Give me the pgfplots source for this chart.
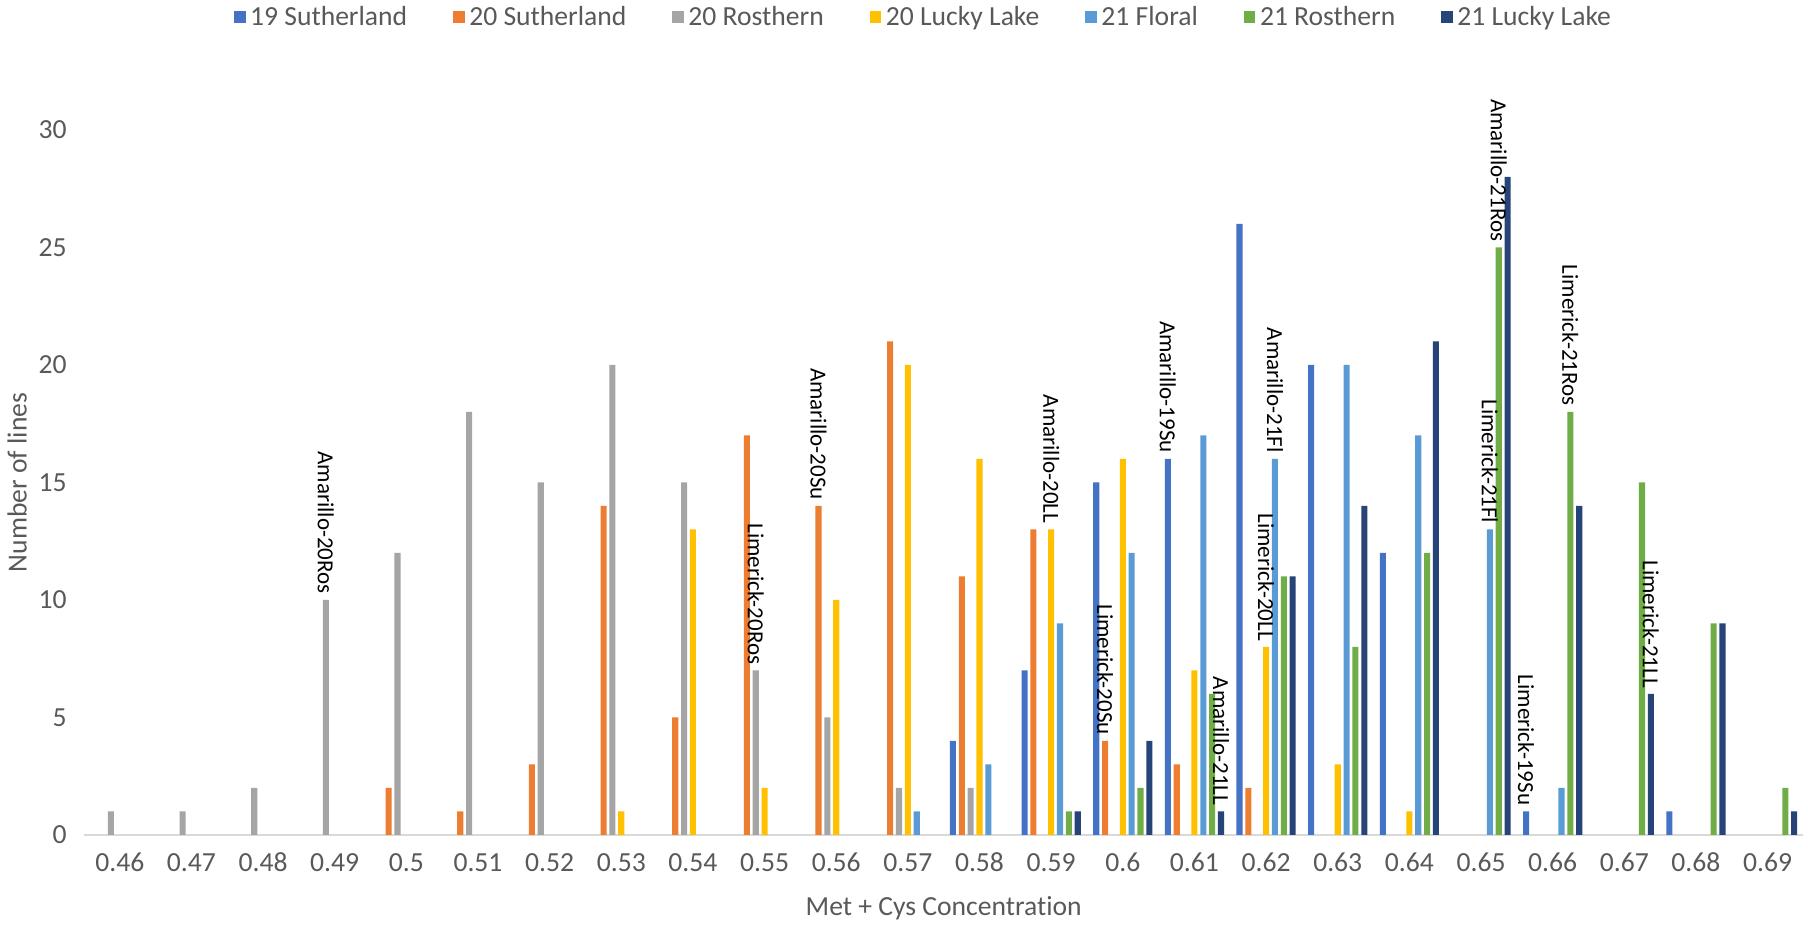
\documentclass[border=0pt]{standalone}
\usepackage{fontspec}
\setmainfont{Carlito}[Ligatures=NoCommon]
\usepackage{pgfplots}
\pgfplotsset{compat=1.18}
\definecolor{cA}{HTML}{4472C4}
\definecolor{cB}{HTML}{ED7D31}
\definecolor{cC}{HTML}{A5A5A5}
\definecolor{cD}{HTML}{FFC000}
\definecolor{cE}{HTML}{5B9BD5}
\definecolor{cF}{HTML}{70AD47}
\definecolor{cG}{HTML}{264478}
\definecolor{txt}{HTML}{595959}
\definecolor{axl}{HTML}{D9D9D9}
\pgfplotsset{sqleg/.style={legend image code/.code={\fill[##1,draw=none] (0pt,-2.6pt) rectangle (5pt,2.6pt);}}}
\begin{document}
\begin{tikzpicture}
\useasboundingbox (-36.5pt,-40pt) rectangle (749.5pt,363pt);
\begin{axis}[
  scale only axis, width=747.5pt, height=306.5pt,
  xmin=-0.5, xmax=23.5, ymin=0, ymax=30,
  clip=false,
  ybar, bar width=0.085,
  axis x line*=bottom, axis y line*=left,
  x axis line style={draw=axl, line width=0.75pt},
  y axis line style={draw=none},
  major tick length=0pt,
  xtick={0,...,23},
  xticklabels={0.46,0.47,0.48,0.49,0.5,0.51,0.52,0.53,0.54,0.55,0.56,0.57,0.58,0.59,0.6,0.61,0.62,0.63,0.64,0.65,0.66,0.67,0.68,0.69},
  ytick={0,5,...,30},
  /pgf/number format/assume math mode=true,
  tick label style={font=\fontsize{12}{14}\selectfont, text=txt},
  xticklabel style={anchor=center, yshift=-12pt},
  yticklabel style={xshift=-4pt},
  xlabel={Met + Cys Concentration},
  ylabel={Number of lines},
  label style={font=\fontsize{12}{14}\selectfont, text=txt},
  xlabel style={at={(axis description cs:0.5,0)}, anchor=center, yshift=-32pt},
  ylabel style={at={(axis description cs:-0.0388,0.5)}, anchor=center, rotate=0},
  nodes near coords, point meta=explicit symbolic,
  every node near coord/.append style={rotate=-90, anchor=east, font=\fontsize{10}{12}\selectfont, text=black, inner sep=2.5pt},
  legend columns=7,
  legend style={draw=none, at={(0.489,1)}, anchor=center, yshift=49pt, font=\fontsize{12}{14}\selectfont, text=txt, /tikz/every even column/.append style={column sep=18pt}},
]
\addplot[sqleg, fill=cA, draw=none, bar shift=-0.3708] coordinates {
 (12,4) [] (13,7) [] (14,15) [] (15,16) [Amarillo-19Su] (16,26) [] (17,20) [] (18,12) [] (20,1) [Limerick-19Su] (22,1) []};
\addlegendentry{19 Sutherland}
\addplot[sqleg, fill=cB, draw=none, bar shift=-0.2472] coordinates {
 (4,2) [] (5,1) [] (6,3) [] (7,14) [] (8,5) [] (9,17) [] (10,14) [Amarillo-20Su] (11,21) [] (12,11) [] (13,13) [] (14,4) [Limerick-20Su] (15,3) [] (16,2) []};
\addlegendentry{20 Sutherland}
\addplot[sqleg, fill=cC, draw=none, bar shift=-0.1236] coordinates {
 (0,1) [] (1,1) [] (2,2) [] (3,10) [Amarillo-20Ros] (4,12) [] (5,18) [] (6,15) [] (7,20) [] (8,15) [] (9,7) [Limerick-20Ros] (10,5) [] (11,2) [] (12,2) []};
\addlegendentry{20 Rosthern}
\addplot[sqleg, fill=cD, draw=none, bar shift=0] coordinates {
 (7,1) [] (8,13) [] (9,2) [] (10,10) [] (11,20) [] (12,16) [] (13,13) [Amarillo-20LL] (14,16) [] (15,7) [] (16,8) [Limerick-20LL] (17,3) [] (18,1) []};
\addlegendentry{20 Lucky Lake}
\addplot[sqleg, fill=cE, draw=none, bar shift=0.1236] coordinates {
 (11,1) [] (12,3) [] (13,9) [] (14,12) [] (15,17) [] (16,16) [Amarillo-21Fl] (17,20) [] (18,17) [] (19,13) [Limerick-21Fl] (20,2) []};
\addlegendentry{21 Floral}
\addplot[sqleg, fill=cF, draw=none, bar shift=0.2472] coordinates {
 (13,1) [] (14,2) [] (15,6) [] (16,11) [] (17,8) [] (18,12) [] (19,25) [Amarillo-21Ros] (20,18) [Limerick-21Ros] (21,15) [] (22,9) [] (23,2) []};
\addlegendentry{21 Rosthern}
\addplot[sqleg, fill=cG, draw=none, bar shift=0.3708] coordinates {
 (13,1) [] (14,4) [] (15,1) [Amarillo-21LL] (16,11) [] (17,14) [] (18,21) [] (19,28) [] (20,14) [] (21,6) [Limerick-21LL] (22,9) [] (23,1) []};
\addlegendentry{21 Lucky Lake}
\end{axis}
\end{tikzpicture}
\end{document}
